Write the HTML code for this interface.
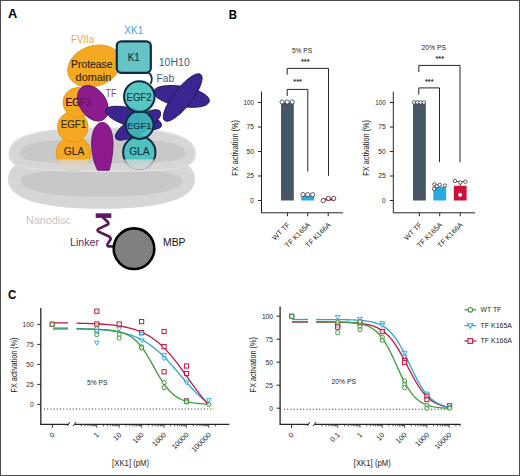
<!DOCTYPE html>
<html><head><meta charset="utf-8"><style>
html,body{margin:0;padding:0;background:#fff;}
body{width:520px;height:476px;overflow:hidden;position:relative;}
svg{position:absolute;left:0;top:0;display:block;font-family:"Liberation Sans", sans-serif;}
</style></head><body>
<svg width="520" height="476" viewBox="0 0 520 476">
<rect x="0" y="0" width="520" height="476" fill="#fff"/>
<path d="M8.00,179.20 C8.00,159.81 36.05,151.50 101.50,151.50 C166.95,151.50 195.00,159.81 195.00,179.20 C195.00,198.67 163.21,208.70 101.50,208.70 C39.79,208.70 8.00,198.67 8.00,179.20 Z" fill="#d6d6d6"/>
<path d="M20.40,180.20 C20.40,173.00 52.80,168.20 101.40,168.20 C150.00,168.20 182.40,173.00 182.40,180.20 C182.40,190.70 153.24,196.60 101.40,196.60 C49.56,196.60 20.40,190.70 20.40,180.20 Z" fill="#c8c8c8"/>
<path d="M9.30,153.40 C9.30,135.83 37.17,128.30 102.20,128.30 C167.23,128.30 195.10,135.83 195.10,153.40 C195.10,168.44 181.17,171.10 102.20,171.10 C23.23,171.10 9.30,168.44 9.30,153.40 Z" fill="#d6d6d6" stroke="#dedede" stroke-width="1.6"/>
<path d="M19.80,153.30 C19.80,142.72 41.33,139.00 102.60,139.00 C163.87,139.00 185.40,142.72 185.40,153.30 C185.40,161.30 168.84,163.30 102.60,163.30 C36.36,163.30 19.80,161.30 19.80,153.30 Z" fill="#c8c8c8"/>
<ellipse cx="94.2" cy="66" rx="27.2" ry="20.1" fill="#f5a821" stroke="#e0960f" stroke-width="0.9" transform="rotate(-20.6 94.2 66)" />
<circle cx="73.4" cy="153.3" r="17.2" fill="#f5a821" stroke="#e0960f" stroke-width="0.9"/>
<circle cx="72.8" cy="127" r="15.3" fill="#f5a821" stroke="#e0960f" stroke-width="0.9"/>
<circle cx="78" cy="102.5" r="15" fill="#f5a821" stroke="#e0960f" stroke-width="0.9"/>
<text x="91.8" y="68.1" font-size="10.6" fill="#33240c" text-anchor="middle" font-weight="normal" stroke="#33240c" stroke-width="0.12" textLength="41.5" lengthAdjust="spacingAndGlyphs">Protease</text>
<text x="93.4" y="80.6" font-size="10.6" fill="#33240c" text-anchor="middle" font-weight="normal" stroke="#33240c" stroke-width="0.12" textLength="35.6" lengthAdjust="spacingAndGlyphs">domain</text>
<text x="78.5" y="105.6" font-size="10" fill="#33240c" text-anchor="middle" font-weight="normal" stroke="#33240c" stroke-width="0.12" textLength="25.8" lengthAdjust="spacingAndGlyphs">EGF2</text>
<text x="73.5" y="127.8" font-size="10" fill="#33240c" text-anchor="middle" font-weight="normal" stroke="#33240c" stroke-width="0.12" textLength="25.5" lengthAdjust="spacingAndGlyphs">EGF1</text>
<text x="74" y="155" font-size="10.2" fill="#33240c" text-anchor="middle" font-weight="normal" stroke="#33240c" stroke-width="0.12" textLength="20.5" lengthAdjust="spacingAndGlyphs">GLA</text>
<path d="M102.3,122.4 C108,122.4 113,130 113,143 C113,155 110.8,164 109.2,170.2 L97.6,170.2 C94.5,164 91.6,155 91.6,143 C91.6,130 96.6,122.4 102.3,122.4 Z" fill="#8e1b8e" stroke="#66106a" stroke-width="0.9"/>
<ellipse cx="92.9" cy="103.3" rx="19.4" ry="13.2" fill="#8e1b8e" stroke="#66106a" stroke-width="0.9" transform="rotate(56.5 92.9 103.3)" />
<text opacity="0.6" x="78.5" y="105.6" font-size="10" fill="#3a0838" text-anchor="middle" font-weight="normal" stroke="#3a0838" stroke-width="0.12" textLength="25.8" lengthAdjust="spacingAndGlyphs">EGF2</text>
<ellipse cx="133.5" cy="118" rx="29" ry="9" fill="#3b2591" stroke="#1f1858" stroke-width="0.9" transform="rotate(15.8 133.5 118)" />
<ellipse cx="138" cy="125" rx="26" ry="8.5" fill="#3b2591" stroke="#1f1858" stroke-width="0.9" transform="rotate(-31 138 125)" />
<ellipse cx="181.5" cy="96.4" rx="28.3" ry="9.9" fill="#3b2591" stroke="#1f1858" stroke-width="0.9" transform="rotate(9.9 181.5 96.4)" />
<ellipse cx="182.7" cy="97.5" rx="29.3" ry="9.1" fill="#3b2591" stroke="#1f1858" stroke-width="0.9" transform="rotate(-52 182.7 97.5)" />
<circle cx="139.3" cy="152.5" r="16.2" fill="#40bfbb" fill-opacity="0.88" stroke="#0d2b45" stroke-width="2"/>
<circle cx="139.6" cy="125" r="13.9" fill="#40bfbb" fill-opacity="0.88" stroke="#0d2b45" stroke-width="2"/>
<circle cx="139.3" cy="96.6" r="15.3" fill="#40bfbb" fill-opacity="0.88" stroke="#0d2b45" stroke-width="2"/>
<path d="M148.5,73 C152.5,75 152.5,80 150.5,84" fill="none" stroke="#0d2b45" stroke-width="1.8"/>
<rect x="116.8" y="41.3" width="34" height="31.5" rx="4.5" fill="#66c4c6" stroke="#0d2b45" stroke-width="2.2"/>
<text x="133.7" y="60.8" font-size="10.2" fill="#0c3340" text-anchor="middle" font-weight="normal" stroke="#0c3340" stroke-width="0.12" textLength="12" lengthAdjust="spacingAndGlyphs">K1</text>
<text x="139" y="100.8" font-size="10.2" fill="#0c3340" text-anchor="middle" font-weight="normal" stroke="#0c3340" stroke-width="0.12" textLength="25" lengthAdjust="spacingAndGlyphs">EGF2</text>
<text x="139.2" y="128.6" font-size="9.8" fill="#0c3340" text-anchor="middle" font-weight="normal" stroke="#0c3340" stroke-width="0.12" textLength="24.5" lengthAdjust="spacingAndGlyphs">EGF1</text>
<clipPath id="glaclip"><circle cx="73.4" cy="153.3" r="17.7"/><circle cx="139.3" cy="152.5" r="17.2"/></clipPath>
<linearGradient id="fadeg" x1="0" y1="0" x2="0" y2="1"><stop offset="0" stop-color="#dadada" stop-opacity="0.68"/><stop offset="0.6" stop-color="#d8d8d8" stop-opacity="0.95"/><stop offset="1" stop-color="#d6d6d6" stop-opacity="1"/></linearGradient>
<rect x="50" y="159.3" width="110" height="12" fill="url(#fadeg)" clip-path="url(#glaclip)"/>
<text x="139.4" y="155.4" font-size="10" fill="#0c3340" text-anchor="middle" font-weight="normal" stroke="#0c3340" stroke-width="0.12" textLength="20.4" lengthAdjust="spacingAndGlyphs">GLA</text>
<rect x="95.7" y="213.3" width="15.6" height="4.6" fill="#5a1a5c"/>
<path d="M102.5,217 L107.6,221.8 Q109.4,223.6 107.2,224.8 L99,228.6 Q96.2,230.2 98.8,231.8 L109.2,236.6 Q111.4,238.2 110.2,240 L107.6,244 Q106.6,246.4 109.2,246.4 L113.5,246.4" fill="none" stroke="#5a1a5c" stroke-width="2.7" stroke-linejoin="round"/>
<circle cx="134" cy="248.7" r="20.3" fill="#808080" stroke="#000" stroke-width="2.6"/>
<text x="8" y="18.3" font-size="13.2" fill="#000" text-anchor="start" font-weight="bold" textLength="9.3" lengthAdjust="spacingAndGlyphs">A</text>
<text x="228.8" y="18.6" font-size="13.2" fill="#000" text-anchor="start" font-weight="bold" textLength="8.2" lengthAdjust="spacingAndGlyphs">B</text>
<text x="7.9" y="299.2" font-size="13.2" fill="#000" text-anchor="start" font-weight="bold" textLength="8.3" lengthAdjust="spacingAndGlyphs">C</text>
<text x="71" y="42.7" font-size="10.6" fill="#f0a540" text-anchor="start" font-weight="normal" textLength="23" lengthAdjust="spacingAndGlyphs">FVIIa</text>
<text x="124.3" y="34.4" font-size="10.8" fill="#46a2d0" text-anchor="start" font-weight="normal" textLength="18.9" lengthAdjust="spacingAndGlyphs">XK1</text>
<text x="158.7" y="66.2" font-size="10" fill="#3b5d87" text-anchor="start" font-weight="normal" textLength="31.1" lengthAdjust="spacingAndGlyphs">10H10</text>
<text x="156.6" y="82.4" font-size="10" fill="#3b5d87" text-anchor="start" font-weight="normal" textLength="17.4" lengthAdjust="spacingAndGlyphs">Fab</text>
<text x="105.4" y="96.5" font-size="10" fill="#7a4a8c" text-anchor="start" font-weight="normal" textLength="11.1" lengthAdjust="spacingAndGlyphs">TF</text>
<text x="26" y="224" font-size="10" fill="#c4c4c4" text-anchor="start" font-weight="normal" textLength="45" lengthAdjust="spacingAndGlyphs">Nanodisc</text>
<text x="70" y="245.7" font-size="10" fill="#5a2a6a" text-anchor="start" font-weight="normal" textLength="29" lengthAdjust="spacingAndGlyphs">Linker</text>
<text x="163" y="246" font-size="10" fill="#111" text-anchor="start" font-weight="normal" textLength="22.5" lengthAdjust="spacingAndGlyphs">MBP</text>
<path d="M261.5,91.6 V212.8 H343" fill="none" stroke="#262626" stroke-width="1"/>
<line x1="258.0" y1="200.5" x2="261.5" y2="200.5" stroke="#262626" stroke-width="1"/>
<text x="253.9" y="202.5" font-size="6.6" fill="#242424" text-anchor="end" textLength="3.6" lengthAdjust="spacingAndGlyphs">0</text>
<line x1="258.0" y1="176.0" x2="261.5" y2="176.0" stroke="#262626" stroke-width="1"/>
<text x="253.9" y="178.0" font-size="6.6" fill="#242424" text-anchor="end" textLength="7.4" lengthAdjust="spacingAndGlyphs">25</text>
<line x1="258.0" y1="151.5" x2="261.5" y2="151.5" stroke="#262626" stroke-width="1"/>
<text x="253.9" y="153.5" font-size="6.6" fill="#242424" text-anchor="end" textLength="7.4" lengthAdjust="spacingAndGlyphs">50</text>
<line x1="258.0" y1="127.0" x2="261.5" y2="127.0" stroke="#262626" stroke-width="1"/>
<text x="253.9" y="129.0" font-size="6.6" fill="#242424" text-anchor="end" textLength="7.4" lengthAdjust="spacingAndGlyphs">75</text>
<line x1="258.0" y1="102.5" x2="261.5" y2="102.5" stroke="#262626" stroke-width="1"/>
<text x="253.9" y="104.5" font-size="6.6" fill="#242424" text-anchor="end" textLength="10.4" lengthAdjust="spacingAndGlyphs">100</text>
<text transform="translate(237.5,147.9) rotate(-90)" font-size="8.4" fill="#242424" text-anchor="middle" textLength="55.5" lengthAdjust="spacingAndGlyphs">FX activation (%)</text>
<line x1="287.4" y1="212.8" x2="287.4" y2="216.2" stroke="#262626" stroke-width="1"/>
<rect x="281.0" y="102.5" width="12.8" height="98.0" fill="#465867"/>
<text transform="translate(290.4,225.3) rotate(-45)" font-size="7.2" fill="#242424" text-anchor="end">WT TF</text>
<line x1="307.7" y1="212.8" x2="307.7" y2="216.2" stroke="#262626" stroke-width="1"/>
<rect x="301.3" y="195.6" width="12.8" height="4.900000000000006" fill="#27a9e1"/>
<text transform="translate(310.7,225.3) rotate(-45)" font-size="7.2" fill="#242424" text-anchor="end">TF K165A</text>
<line x1="328.2" y1="212.8" x2="328.2" y2="216.2" stroke="#262626" stroke-width="1"/>
<rect x="321.8" y="198.54" width="12.8" height="1.960000000000008" fill="#cc0f38"/>
<text transform="translate(331.2,225.3) rotate(-45)" font-size="7.2" fill="#242424" text-anchor="end">TF K166A</text>
<circle cx="282.1" cy="102" r="2.1" fill="#fff" stroke="#333" stroke-width="0.8"/>
<circle cx="287.2" cy="102" r="2.1" fill="#fff" stroke="#333" stroke-width="0.8"/>
<circle cx="292.2" cy="102" r="2.1" fill="#fff" stroke="#333" stroke-width="0.8"/>
<circle cx="302.9" cy="194.6" r="2.1" fill="#fff" stroke="#333" stroke-width="0.8"/>
<circle cx="307.7" cy="194.6" r="2.1" fill="#fff" stroke="#333" stroke-width="0.8"/>
<circle cx="312.7" cy="194.6" r="2.1" fill="#fff" stroke="#333" stroke-width="0.8"/>
<circle cx="323.2" cy="200.6" r="2.1" fill="#fff" stroke="#333" stroke-width="0.8"/>
<circle cx="328.4" cy="198.4" r="2.1" fill="#fff" stroke="#42161f" stroke-width="0.8"/>
<circle cx="333.7" cy="198.5" r="2.1" fill="#fff" stroke="#42161f" stroke-width="0.8"/>
<text x="302" y="52.5" font-size="7.4" fill="#242424" text-anchor="middle" textLength="20.2" lengthAdjust="spacingAndGlyphs">5% PS</text>
<path d="M287.2,96 V89.4 H307.8 V171.5" fill="none" stroke="#262626" stroke-width="1"/>
<text x="297.6" y="83.5" font-size="7.4" font-weight="bold" fill="#242424" text-anchor="middle">***</text>
<path d="M287.2,74.7 V68.4 H328.5 V175.8" fill="none" stroke="#262626" stroke-width="1"/>
<text x="305.2" y="63.7" font-size="7.4" font-weight="bold" fill="#242424" text-anchor="middle">***</text>
<path d="M456,181.6 L464.6,181.6 M460.4,181.6 V187" stroke="#222" stroke-width="0.8" fill="none"/>
<path d="M393.3,91.6 V212.8 H475" fill="none" stroke="#262626" stroke-width="1"/>
<line x1="389.8" y1="200.5" x2="393.3" y2="200.5" stroke="#262626" stroke-width="1"/>
<text x="385.7" y="202.5" font-size="6.6" fill="#242424" text-anchor="end" textLength="3.6" lengthAdjust="spacingAndGlyphs">0</text>
<line x1="389.8" y1="176.0" x2="393.3" y2="176.0" stroke="#262626" stroke-width="1"/>
<text x="385.7" y="178.0" font-size="6.6" fill="#242424" text-anchor="end" textLength="7.4" lengthAdjust="spacingAndGlyphs">25</text>
<line x1="389.8" y1="151.5" x2="393.3" y2="151.5" stroke="#262626" stroke-width="1"/>
<text x="385.7" y="153.5" font-size="6.6" fill="#242424" text-anchor="end" textLength="7.4" lengthAdjust="spacingAndGlyphs">50</text>
<line x1="389.8" y1="127.0" x2="393.3" y2="127.0" stroke="#262626" stroke-width="1"/>
<text x="385.7" y="129.0" font-size="6.6" fill="#242424" text-anchor="end" textLength="7.4" lengthAdjust="spacingAndGlyphs">75</text>
<line x1="389.8" y1="102.5" x2="393.3" y2="102.5" stroke="#262626" stroke-width="1"/>
<text x="385.7" y="104.5" font-size="6.6" fill="#242424" text-anchor="end" textLength="10.4" lengthAdjust="spacingAndGlyphs">100</text>
<text transform="translate(369.3,147.9) rotate(-90)" font-size="8.4" fill="#242424" text-anchor="middle" textLength="55.5" lengthAdjust="spacingAndGlyphs">FX activation (%)</text>
<line x1="419.4" y1="212.8" x2="419.4" y2="216.2" stroke="#262626" stroke-width="1"/>
<rect x="413.0" y="102.5" width="12.8" height="98.0" fill="#465867"/>
<text transform="translate(422.4,225.3) rotate(-45)" font-size="7.2" fill="#242424" text-anchor="end">WT TF</text>
<line x1="439.7" y1="212.8" x2="439.7" y2="216.2" stroke="#262626" stroke-width="1"/>
<rect x="433.3" y="186.78" width="12.8" height="13.719999999999999" fill="#27a9e1"/>
<text transform="translate(442.7,225.3) rotate(-45)" font-size="7.2" fill="#242424" text-anchor="end">TF K165A</text>
<line x1="460.2" y1="212.8" x2="460.2" y2="216.2" stroke="#262626" stroke-width="1"/>
<rect x="453.8" y="185.8" width="12.8" height="14.699999999999989" fill="#cc0f38"/>
<text transform="translate(463.2,225.3) rotate(-45)" font-size="7.2" fill="#242424" text-anchor="end">TF K166A</text>
<circle cx="414.1" cy="102.4" r="1.75" fill="#fff" stroke="#333" stroke-width="0.8"/>
<circle cx="417.35" cy="102.4" r="1.75" fill="#fff" stroke="#333" stroke-width="0.8"/>
<circle cx="420.6" cy="102.4" r="1.75" fill="#fff" stroke="#333" stroke-width="0.8"/>
<circle cx="423.85" cy="102.4" r="1.75" fill="#fff" stroke="#333" stroke-width="0.8"/>
<circle cx="434.4" cy="184.4" r="1.7" fill="#fff" stroke="#333" stroke-width="0.8"/>
<circle cx="436.9" cy="186.2" r="1.7" fill="#fff" stroke="#333" stroke-width="0.8"/>
<circle cx="439.7" cy="184.9" r="1.7" fill="#fff" stroke="#333" stroke-width="0.8"/>
<circle cx="444.9" cy="185.6" r="1.7" fill="#fff" stroke="#333" stroke-width="0.8"/>
<circle cx="434.1" cy="188.8" r="1.7" fill="#fff" stroke="#333" stroke-width="0.8"/>
<circle cx="455" cy="180.9" r="1.7" fill="#fff" stroke="#333" stroke-width="0.8"/>
<circle cx="460.4" cy="182.5" r="1.7" fill="#fff" stroke="#333" stroke-width="0.8"/>
<circle cx="465.4" cy="181.7" r="1.7" fill="#fff" stroke="#333" stroke-width="0.8"/>
<circle cx="460.1" cy="194.8" r="1.6" fill="#fff" stroke="#fff" stroke-width="0.8"/>
<text x="433.8" y="50" font-size="7.4" fill="#242424" text-anchor="middle" textLength="24.5" lengthAdjust="spacingAndGlyphs">20% PS</text>
<path d="M418.8,94.6 V87.9 H439.5 V162.2" fill="none" stroke="#262626" stroke-width="1"/>
<text x="429.3" y="84" font-size="7.4" font-weight="bold" fill="#242424" text-anchor="middle">***</text>
<path d="M418.8,72 V65.4 H460 V162.2" fill="none" stroke="#262626" stroke-width="1"/>
<text x="439.7" y="61" font-size="7.4" font-weight="bold" fill="#242424" text-anchor="middle">***</text>
<path d="M40.8,308 V424.3 H68.5" fill="none" stroke="#262626" stroke-width="1.3"/>
<path d="M74.6,424.3 H229.4" fill="none" stroke="#262626" stroke-width="1.3"/>
<line x1="67.0" y1="426" x2="70.0" y2="422" stroke="#262626" stroke-width="1"/>
<line x1="73.1" y1="426" x2="76.1" y2="422" stroke="#262626" stroke-width="1"/>
<line x1="37.3" y1="404.4" x2="40.8" y2="404.4" stroke="#262626" stroke-width="1"/>
<text x="33.599999999999994" y="407.0" font-size="8" fill="#242424" text-anchor="end" textLength="3.7" lengthAdjust="spacingAndGlyphs">0</text>
<line x1="37.3" y1="384.4" x2="40.8" y2="384.4" stroke="#262626" stroke-width="1"/>
<text x="33.599999999999994" y="387.0" font-size="8" fill="#242424" text-anchor="end" textLength="7.3" lengthAdjust="spacingAndGlyphs">25</text>
<line x1="37.3" y1="364.4" x2="40.8" y2="364.4" stroke="#262626" stroke-width="1"/>
<text x="33.599999999999994" y="367.0" font-size="8" fill="#242424" text-anchor="end" textLength="7.3" lengthAdjust="spacingAndGlyphs">50</text>
<line x1="37.3" y1="344.4" x2="40.8" y2="344.4" stroke="#262626" stroke-width="1"/>
<text x="33.599999999999994" y="347.0" font-size="8" fill="#242424" text-anchor="end" textLength="7.3" lengthAdjust="spacingAndGlyphs">75</text>
<line x1="37.3" y1="324.4" x2="40.8" y2="324.4" stroke="#262626" stroke-width="1"/>
<text x="33.599999999999994" y="327.0" font-size="8" fill="#242424" text-anchor="end" textLength="11" lengthAdjust="spacingAndGlyphs">100</text>
<text transform="translate(17.4,365) rotate(-90)" font-size="8.4" fill="#242424" text-anchor="middle" textLength="55" lengthAdjust="spacingAndGlyphs">FX activation (%)</text>
<line x1="52.4" y1="424.3" x2="52.4" y2="427.8" stroke="#262626" stroke-width="1"/>
<line x1="81.14" y1="424.3" x2="81.14" y2="426.3" stroke="#262626" stroke-width="0.8"/>
<line x1="85.09" y1="424.3" x2="85.09" y2="426.3" stroke="#262626" stroke-width="0.8"/>
<line x1="87.89" y1="424.3" x2="87.89" y2="426.3" stroke="#262626" stroke-width="0.8"/>
<line x1="90.06" y1="424.3" x2="90.06" y2="426.3" stroke="#262626" stroke-width="0.8"/>
<line x1="91.83" y1="424.3" x2="91.83" y2="426.3" stroke="#262626" stroke-width="0.8"/>
<line x1="93.33" y1="424.3" x2="93.33" y2="426.3" stroke="#262626" stroke-width="0.8"/>
<line x1="94.63" y1="424.3" x2="94.63" y2="426.3" stroke="#262626" stroke-width="0.8"/>
<line x1="95.78" y1="424.3" x2="95.78" y2="426.3" stroke="#262626" stroke-width="0.8"/>
<line x1="96.80" y1="424.3" x2="96.80" y2="427.8" stroke="#262626" stroke-width="0.8"/>
<line x1="103.54" y1="424.3" x2="103.54" y2="426.3" stroke="#262626" stroke-width="0.8"/>
<line x1="107.49" y1="424.3" x2="107.49" y2="426.3" stroke="#262626" stroke-width="0.8"/>
<line x1="110.29" y1="424.3" x2="110.29" y2="426.3" stroke="#262626" stroke-width="0.8"/>
<line x1="112.46" y1="424.3" x2="112.46" y2="426.3" stroke="#262626" stroke-width="0.8"/>
<line x1="114.23" y1="424.3" x2="114.23" y2="426.3" stroke="#262626" stroke-width="0.8"/>
<line x1="115.73" y1="424.3" x2="115.73" y2="426.3" stroke="#262626" stroke-width="0.8"/>
<line x1="117.03" y1="424.3" x2="117.03" y2="426.3" stroke="#262626" stroke-width="0.8"/>
<line x1="118.18" y1="424.3" x2="118.18" y2="426.3" stroke="#262626" stroke-width="0.8"/>
<line x1="119.20" y1="424.3" x2="119.20" y2="427.8" stroke="#262626" stroke-width="0.8"/>
<line x1="125.94" y1="424.3" x2="125.94" y2="426.3" stroke="#262626" stroke-width="0.8"/>
<line x1="129.89" y1="424.3" x2="129.89" y2="426.3" stroke="#262626" stroke-width="0.8"/>
<line x1="132.69" y1="424.3" x2="132.69" y2="426.3" stroke="#262626" stroke-width="0.8"/>
<line x1="134.86" y1="424.3" x2="134.86" y2="426.3" stroke="#262626" stroke-width="0.8"/>
<line x1="136.63" y1="424.3" x2="136.63" y2="426.3" stroke="#262626" stroke-width="0.8"/>
<line x1="138.13" y1="424.3" x2="138.13" y2="426.3" stroke="#262626" stroke-width="0.8"/>
<line x1="139.43" y1="424.3" x2="139.43" y2="426.3" stroke="#262626" stroke-width="0.8"/>
<line x1="140.58" y1="424.3" x2="140.58" y2="426.3" stroke="#262626" stroke-width="0.8"/>
<line x1="141.60" y1="424.3" x2="141.60" y2="427.8" stroke="#262626" stroke-width="0.8"/>
<line x1="148.34" y1="424.3" x2="148.34" y2="426.3" stroke="#262626" stroke-width="0.8"/>
<line x1="152.29" y1="424.3" x2="152.29" y2="426.3" stroke="#262626" stroke-width="0.8"/>
<line x1="155.09" y1="424.3" x2="155.09" y2="426.3" stroke="#262626" stroke-width="0.8"/>
<line x1="157.26" y1="424.3" x2="157.26" y2="426.3" stroke="#262626" stroke-width="0.8"/>
<line x1="159.03" y1="424.3" x2="159.03" y2="426.3" stroke="#262626" stroke-width="0.8"/>
<line x1="160.53" y1="424.3" x2="160.53" y2="426.3" stroke="#262626" stroke-width="0.8"/>
<line x1="161.83" y1="424.3" x2="161.83" y2="426.3" stroke="#262626" stroke-width="0.8"/>
<line x1="162.98" y1="424.3" x2="162.98" y2="426.3" stroke="#262626" stroke-width="0.8"/>
<line x1="164.00" y1="424.3" x2="164.00" y2="427.8" stroke="#262626" stroke-width="0.8"/>
<line x1="170.74" y1="424.3" x2="170.74" y2="426.3" stroke="#262626" stroke-width="0.8"/>
<line x1="174.69" y1="424.3" x2="174.69" y2="426.3" stroke="#262626" stroke-width="0.8"/>
<line x1="177.49" y1="424.3" x2="177.49" y2="426.3" stroke="#262626" stroke-width="0.8"/>
<line x1="179.66" y1="424.3" x2="179.66" y2="426.3" stroke="#262626" stroke-width="0.8"/>
<line x1="181.43" y1="424.3" x2="181.43" y2="426.3" stroke="#262626" stroke-width="0.8"/>
<line x1="182.93" y1="424.3" x2="182.93" y2="426.3" stroke="#262626" stroke-width="0.8"/>
<line x1="184.23" y1="424.3" x2="184.23" y2="426.3" stroke="#262626" stroke-width="0.8"/>
<line x1="185.38" y1="424.3" x2="185.38" y2="426.3" stroke="#262626" stroke-width="0.8"/>
<line x1="186.40" y1="424.3" x2="186.40" y2="427.8" stroke="#262626" stroke-width="0.8"/>
<line x1="193.14" y1="424.3" x2="193.14" y2="426.3" stroke="#262626" stroke-width="0.8"/>
<line x1="197.09" y1="424.3" x2="197.09" y2="426.3" stroke="#262626" stroke-width="0.8"/>
<line x1="199.89" y1="424.3" x2="199.89" y2="426.3" stroke="#262626" stroke-width="0.8"/>
<line x1="202.06" y1="424.3" x2="202.06" y2="426.3" stroke="#262626" stroke-width="0.8"/>
<line x1="203.83" y1="424.3" x2="203.83" y2="426.3" stroke="#262626" stroke-width="0.8"/>
<line x1="205.33" y1="424.3" x2="205.33" y2="426.3" stroke="#262626" stroke-width="0.8"/>
<line x1="206.63" y1="424.3" x2="206.63" y2="426.3" stroke="#262626" stroke-width="0.8"/>
<line x1="207.78" y1="424.3" x2="207.78" y2="426.3" stroke="#262626" stroke-width="0.8"/>
<line x1="208.80" y1="424.3" x2="208.80" y2="427.8" stroke="#262626" stroke-width="0.8"/>
<line x1="215.54" y1="424.3" x2="215.54" y2="426.3" stroke="#262626" stroke-width="0.8"/>
<text transform="translate(55.0,435.4) rotate(-45)" font-size="7.3" fill="#242424" text-anchor="end">0</text>
<text transform="translate(99.39999999999999,435.4) rotate(-45)" font-size="7.3" fill="#242424" text-anchor="end">1</text>
<text transform="translate(121.79999999999998,435.4) rotate(-45)" font-size="7.3" fill="#242424" text-anchor="end">10</text>
<text transform="translate(144.2,435.4) rotate(-45)" font-size="7.3" fill="#242424" text-anchor="end">100</text>
<text transform="translate(166.6,435.4) rotate(-45)" font-size="7.3" fill="#242424" text-anchor="end">1000</text>
<text transform="translate(188.99999999999997,435.4) rotate(-45)" font-size="7.3" fill="#242424" text-anchor="end">10000</text>
<text transform="translate(211.4,435.4) rotate(-45)" font-size="7.3" fill="#242424" text-anchor="end">100000</text>
<line x1="44" y1="409" x2="214" y2="409" stroke="#222" stroke-width="1" stroke-dasharray="1 2.2"/>
<polyline points="76.51,328.52 78.18,328.57 79.85,328.61 81.53,328.66 83.20,328.72 84.88,328.78 86.55,328.85 88.23,328.92 89.90,328.99 91.58,329.08 93.25,329.17 94.93,329.27 96.60,329.38 98.28,329.49 99.95,329.62 101.62,329.76 103.30,329.91 104.97,330.07 106.65,330.24 108.32,330.44 110.00,330.64 111.67,330.87 113.35,331.11 115.02,331.37 116.70,331.66 118.37,331.96 120.05,332.30 121.72,332.66 123.39,333.04 125.07,333.46 126.74,333.91 128.42,334.40 130.09,334.92 131.77,335.48 133.44,336.09 135.12,336.73 136.79,337.43 138.47,338.17 140.14,338.96 141.82,339.81 143.49,340.71 145.16,341.67 146.84,342.69 148.51,343.77 150.19,344.92 151.86,346.12 153.54,347.39 155.21,348.73 156.89,350.13 158.56,351.59 160.24,353.12 161.91,354.71 163.59,356.35 165.26,358.06 166.93,359.81 168.61,361.61 170.28,363.45 171.96,365.34 173.63,367.25 175.31,369.19 176.98,371.15 178.66,373.12 180.33,375.09 182.01,377.07 183.68,379.03 185.36,380.98 187.03,382.91 188.70,384.80 190.38,386.66 192.05,388.48 193.73,390.25 195.40,391.98 197.08,393.65 198.75,395.26 200.43,396.81 202.10,398.30 203.78,399.73 205.45,401.09 207.13,402.39 208.80,403.62" fill="none" stroke="#2aa6d6" stroke-width="1.3"/>
<line x1="53" y1="328.04" x2="68" y2="328.04" stroke="#2aa6d6" stroke-width="1.3"/>
<polyline points="76.51,329.08 78.18,329.08 79.85,329.09 81.53,329.11 83.20,329.12 84.88,329.13 86.55,329.15 88.23,329.17 89.90,329.20 91.58,329.23 93.25,329.26 94.93,329.30 96.60,329.35 98.28,329.41 99.95,329.47 101.62,329.55 103.30,329.64 104.97,329.74 106.65,329.87 108.32,330.01 110.00,330.18 111.67,330.37 113.35,330.60 115.02,330.86 116.70,331.17 118.37,331.53 120.05,331.95 121.72,332.43 123.39,332.99 125.07,333.63 126.74,334.37 128.42,335.22 130.09,336.19 131.77,337.29 133.44,338.54 135.12,339.95 136.79,341.53 138.47,343.28 140.14,345.22 141.82,347.34 143.49,349.65 145.16,352.12 146.84,354.76 148.51,357.53 150.19,360.41 151.86,363.37 153.54,366.37 155.21,369.38 156.89,372.35 158.56,375.26 160.24,378.06 161.91,380.74 163.59,383.26 165.26,385.61 166.93,387.78 168.61,389.77 170.28,391.57 171.96,393.19 173.63,394.65 175.31,395.94 176.98,397.08 178.66,398.08 180.33,398.96 182.01,399.73 183.68,400.40 185.36,400.98 187.03,401.48 188.70,401.91 190.38,402.29 192.05,402.61 193.73,402.89 195.40,403.12 197.08,403.33 198.75,403.50 200.43,403.65 202.10,403.78 203.78,403.89 205.45,403.98 207.13,404.06 208.80,404.13" fill="none" stroke="#3f9b3f" stroke-width="1.3"/>
<line x1="53" y1="329.03" x2="68" y2="329.03" stroke="#3f9b3f" stroke-width="1.3"/>
<polyline points="76.51,323.19 78.18,323.22 79.85,323.25 81.53,323.29 83.20,323.33 84.88,323.38 86.55,323.43 88.23,323.48 89.90,323.54 91.58,323.60 93.25,323.67 94.93,323.74 96.60,323.82 98.28,323.91 99.95,324.01 101.62,324.11 103.30,324.23 104.97,324.35 106.65,324.48 108.32,324.63 110.00,324.79 111.67,324.96 113.35,325.15 115.02,325.35 116.70,325.58 118.37,325.82 120.05,326.08 121.72,326.36 123.39,326.67 125.07,327.00 126.74,327.37 128.42,327.76 130.09,328.18 131.77,328.64 133.44,329.13 135.12,329.66 136.79,330.24 138.47,330.86 140.14,331.53 141.82,332.25 143.49,333.02 145.16,333.85 146.84,334.73 148.51,335.68 150.19,336.70 151.86,337.78 153.54,338.93 155.21,340.16 156.89,341.46 158.56,342.83 160.24,344.29 161.91,345.82 163.59,347.43 165.26,349.12 166.93,350.89 168.61,352.73 170.28,354.64 171.96,356.63 173.63,358.69 175.31,360.80 176.98,362.97 178.66,365.20 180.33,367.46 182.01,369.77 183.68,372.10 185.36,374.45 187.03,376.81 188.70,379.17 190.38,381.53 192.05,383.88 193.73,386.20 195.40,388.48 197.08,390.73 198.75,392.93 200.43,395.08 202.10,397.17 203.78,399.19 205.45,401.15 207.13,403.04 208.80,404.84" fill="none" stroke="#c0183f" stroke-width="1.3"/>
<line x1="53" y1="322.84" x2="68" y2="322.84" stroke="#c0183f" stroke-width="1.3"/>
<rect x="50.1" y="322.09999999999997" width="4.2" height="4.2" fill="#fff" fill-opacity="0.6" stroke="#c0183f" stroke-width="1"/>
<circle cx="52.2" cy="324.4" r="2.1" fill="#fff" fill-opacity="0.6" stroke="#3f9b3f" stroke-width="1"/>
<rect x="94.7" y="309.09999999999997" width="4.2" height="4.2" fill="#fff" fill-opacity="0.6" stroke="#c0183f" stroke-width="1"/>
<rect x="94.7" y="321.9" width="4.2" height="4.2" fill="#fff" fill-opacity="0.6" stroke="#c0183f" stroke-width="1"/>
<circle cx="96.8" cy="328.8" r="2.1" fill="#fff" fill-opacity="0.6" stroke="#3f9b3f" stroke-width="1"/>
<circle cx="96.8" cy="331.7" r="2.1" fill="#fff" fill-opacity="0.6" stroke="#3f9b3f" stroke-width="1"/>
<circle cx="96.8" cy="334.6" r="2.1" fill="#fff" fill-opacity="0.6" stroke="#3f9b3f" stroke-width="1"/>
<path d="M94.39999999999999,341.09999999999997 L99.2,341.09999999999997 L96.8,345.0 Z" fill="#fff" fill-opacity="0.6" stroke="#2aa6d6" stroke-width="0.9"/>
<path d="M94.39999999999999,329.4 L99.2,329.4 L96.8,333.3 Z" fill="#fff" fill-opacity="0.6" stroke="#2aa6d6" stroke-width="0.9"/>
<rect x="117.10000000000001" y="321.9" width="4.2" height="4.2" fill="#fff" fill-opacity="0.6" stroke="#c0183f" stroke-width="1"/>
<path d="M116.8,327.2 L121.60000000000001,327.2 L119.2,331.1 Z" fill="#fff" fill-opacity="0.6" stroke="#2aa6d6" stroke-width="0.9"/>
<circle cx="119.2" cy="334.6" r="2.1" fill="#fff" fill-opacity="0.6" stroke="#3f9b3f" stroke-width="1"/>
<circle cx="119.2" cy="338" r="2.1" fill="#fff" fill-opacity="0.6" stroke="#3f9b3f" stroke-width="1"/>
<rect x="139.5" y="319.5" width="4.2" height="4.2" fill="#fff" fill-opacity="0.6" stroke="#c0183f" stroke-width="1"/>
<rect x="139.5" y="330.5" width="4.2" height="4.2" fill="#fff" fill-opacity="0.6" stroke="#c0183f" stroke-width="1"/>
<path d="M139.2,332.4 L144.0,332.4 L141.6,336.3 Z" fill="#fff" fill-opacity="0.6" stroke="#2aa6d6" stroke-width="0.9"/>
<path d="M139.2,338.9 L144.0,338.9 L141.6,342.8 Z" fill="#fff" fill-opacity="0.6" stroke="#2aa6d6" stroke-width="0.9"/>
<circle cx="141.6" cy="346.8" r="2.1" fill="#fff" fill-opacity="0.6" stroke="#3f9b3f" stroke-width="1"/>
<circle cx="141.6" cy="347.9" r="2.1" fill="#fff" fill-opacity="0.6" stroke="#3f9b3f" stroke-width="1"/>
<rect x="162.0" y="329.4" width="4.2" height="4.2" fill="#fff" fill-opacity="0.6" stroke="#c0183f" stroke-width="1"/>
<rect x="162.0" y="344.5" width="4.2" height="4.2" fill="#fff" fill-opacity="0.6" stroke="#c0183f" stroke-width="1"/>
<rect x="162.0" y="369.7" width="4.2" height="4.2" fill="#fff" fill-opacity="0.6" stroke="#c0183f" stroke-width="1"/>
<path d="M161.7,353.29999999999995 L166.5,353.29999999999995 L164.1,357.2 Z" fill="#fff" fill-opacity="0.6" stroke="#2aa6d6" stroke-width="0.9"/>
<path d="M161.7,356.79999999999995 L166.5,356.79999999999995 L164.1,360.7 Z" fill="#fff" fill-opacity="0.6" stroke="#2aa6d6" stroke-width="0.9"/>
<circle cx="164.1" cy="382.6" r="2.1" fill="#fff" fill-opacity="0.6" stroke="#3f9b3f" stroke-width="1"/>
<circle cx="164.1" cy="387.7" r="2.1" fill="#fff" fill-opacity="0.6" stroke="#3f9b3f" stroke-width="1"/>
<rect x="184.4" y="363.9" width="4.2" height="4.2" fill="#fff" fill-opacity="0.6" stroke="#c0183f" stroke-width="1"/>
<rect x="184.4" y="371.4" width="4.2" height="4.2" fill="#fff" fill-opacity="0.6" stroke="#c0183f" stroke-width="1"/>
<path d="M184.1,381.0 L188.9,381.0 L186.5,384.90000000000003 Z" fill="#fff" fill-opacity="0.6" stroke="#2aa6d6" stroke-width="0.9"/>
<rect x="184.4" y="398.9" width="4.2" height="4.2" fill="#fff" fill-opacity="0.6" stroke="#c0183f" stroke-width="1"/>
<circle cx="186.5" cy="400.8" r="2.1" fill="#fff" fill-opacity="0.6" stroke="#3f9b3f" stroke-width="1"/>
<circle cx="186.5" cy="402" r="2.1" fill="#fff" fill-opacity="0.6" stroke="#3f9b3f" stroke-width="1"/>
<path d="M206.4,398.7 L211.20000000000002,398.7 L208.8,402.6 Z" fill="#fff" fill-opacity="0.6" stroke="#2aa6d6" stroke-width="0.9"/>
<circle cx="208.8" cy="404.5" r="2.1" fill="#fff" fill-opacity="0.6" stroke="#3f9b3f" stroke-width="1"/>
<text x="97.3" y="385" font-size="7.6" fill="#242424" text-anchor="middle" textLength="20.4" lengthAdjust="spacingAndGlyphs">5% PS</text>
<text x="130.6" y="466" font-size="8.4" fill="#242424" text-anchor="middle" textLength="37" lengthAdjust="spacingAndGlyphs">[XK1] (pM)</text>
<path d="M280.1,306.4 V424.3 H308.5" fill="none" stroke="#262626" stroke-width="1.3"/>
<path d="M314.6,424.3 H460.6" fill="none" stroke="#262626" stroke-width="1.3"/>
<line x1="307.0" y1="426" x2="310.0" y2="422" stroke="#262626" stroke-width="1"/>
<line x1="313.1" y1="426" x2="316.1" y2="422" stroke="#262626" stroke-width="1"/>
<line x1="276.6" y1="408.2" x2="280.1" y2="408.2" stroke="#262626" stroke-width="1"/>
<text x="272.90000000000003" y="410.8" font-size="8" fill="#242424" text-anchor="end" textLength="3.7" lengthAdjust="spacingAndGlyphs">0</text>
<line x1="276.6" y1="385.2" x2="280.1" y2="385.2" stroke="#262626" stroke-width="1"/>
<text x="272.90000000000003" y="387.8" font-size="8" fill="#242424" text-anchor="end" textLength="7.3" lengthAdjust="spacingAndGlyphs">25</text>
<line x1="276.6" y1="362.2" x2="280.1" y2="362.2" stroke="#262626" stroke-width="1"/>
<text x="272.90000000000003" y="364.8" font-size="8" fill="#242424" text-anchor="end" textLength="7.3" lengthAdjust="spacingAndGlyphs">50</text>
<line x1="276.6" y1="339.2" x2="280.1" y2="339.2" stroke="#262626" stroke-width="1"/>
<text x="272.90000000000003" y="341.8" font-size="8" fill="#242424" text-anchor="end" textLength="7.3" lengthAdjust="spacingAndGlyphs">75</text>
<line x1="276.6" y1="316.2" x2="280.1" y2="316.2" stroke="#262626" stroke-width="1"/>
<text x="272.90000000000003" y="318.8" font-size="8" fill="#242424" text-anchor="end" textLength="11" lengthAdjust="spacingAndGlyphs">100</text>
<text transform="translate(256.1,364.7) rotate(-90)" font-size="8.4" fill="#242424" text-anchor="middle" textLength="55" lengthAdjust="spacingAndGlyphs">FX activation (%)</text>
<line x1="291.5" y1="424.3" x2="291.5" y2="427.8" stroke="#262626" stroke-width="1"/>
<line x1="322.11" y1="424.3" x2="322.11" y2="426.3" stroke="#262626" stroke-width="0.8"/>
<line x1="326.04" y1="424.3" x2="326.04" y2="426.3" stroke="#262626" stroke-width="0.8"/>
<line x1="328.83" y1="424.3" x2="328.83" y2="426.3" stroke="#262626" stroke-width="0.8"/>
<line x1="330.99" y1="424.3" x2="330.99" y2="426.3" stroke="#262626" stroke-width="0.8"/>
<line x1="332.75" y1="424.3" x2="332.75" y2="426.3" stroke="#262626" stroke-width="0.8"/>
<line x1="334.25" y1="424.3" x2="334.25" y2="426.3" stroke="#262626" stroke-width="0.8"/>
<line x1="335.54" y1="424.3" x2="335.54" y2="426.3" stroke="#262626" stroke-width="0.8"/>
<line x1="336.68" y1="424.3" x2="336.68" y2="426.3" stroke="#262626" stroke-width="0.8"/>
<line x1="337.70" y1="424.3" x2="337.70" y2="427.8" stroke="#262626" stroke-width="0.8"/>
<line x1="344.41" y1="424.3" x2="344.41" y2="426.3" stroke="#262626" stroke-width="0.8"/>
<line x1="348.34" y1="424.3" x2="348.34" y2="426.3" stroke="#262626" stroke-width="0.8"/>
<line x1="351.13" y1="424.3" x2="351.13" y2="426.3" stroke="#262626" stroke-width="0.8"/>
<line x1="353.29" y1="424.3" x2="353.29" y2="426.3" stroke="#262626" stroke-width="0.8"/>
<line x1="355.05" y1="424.3" x2="355.05" y2="426.3" stroke="#262626" stroke-width="0.8"/>
<line x1="356.55" y1="424.3" x2="356.55" y2="426.3" stroke="#262626" stroke-width="0.8"/>
<line x1="357.84" y1="424.3" x2="357.84" y2="426.3" stroke="#262626" stroke-width="0.8"/>
<line x1="358.98" y1="424.3" x2="358.98" y2="426.3" stroke="#262626" stroke-width="0.8"/>
<line x1="360.00" y1="424.3" x2="360.00" y2="427.8" stroke="#262626" stroke-width="0.8"/>
<line x1="366.71" y1="424.3" x2="366.71" y2="426.3" stroke="#262626" stroke-width="0.8"/>
<line x1="370.64" y1="424.3" x2="370.64" y2="426.3" stroke="#262626" stroke-width="0.8"/>
<line x1="373.43" y1="424.3" x2="373.43" y2="426.3" stroke="#262626" stroke-width="0.8"/>
<line x1="375.59" y1="424.3" x2="375.59" y2="426.3" stroke="#262626" stroke-width="0.8"/>
<line x1="377.35" y1="424.3" x2="377.35" y2="426.3" stroke="#262626" stroke-width="0.8"/>
<line x1="378.85" y1="424.3" x2="378.85" y2="426.3" stroke="#262626" stroke-width="0.8"/>
<line x1="380.14" y1="424.3" x2="380.14" y2="426.3" stroke="#262626" stroke-width="0.8"/>
<line x1="381.28" y1="424.3" x2="381.28" y2="426.3" stroke="#262626" stroke-width="0.8"/>
<line x1="382.30" y1="424.3" x2="382.30" y2="427.8" stroke="#262626" stroke-width="0.8"/>
<line x1="389.01" y1="424.3" x2="389.01" y2="426.3" stroke="#262626" stroke-width="0.8"/>
<line x1="392.94" y1="424.3" x2="392.94" y2="426.3" stroke="#262626" stroke-width="0.8"/>
<line x1="395.73" y1="424.3" x2="395.73" y2="426.3" stroke="#262626" stroke-width="0.8"/>
<line x1="397.89" y1="424.3" x2="397.89" y2="426.3" stroke="#262626" stroke-width="0.8"/>
<line x1="399.65" y1="424.3" x2="399.65" y2="426.3" stroke="#262626" stroke-width="0.8"/>
<line x1="401.15" y1="424.3" x2="401.15" y2="426.3" stroke="#262626" stroke-width="0.8"/>
<line x1="402.44" y1="424.3" x2="402.44" y2="426.3" stroke="#262626" stroke-width="0.8"/>
<line x1="403.58" y1="424.3" x2="403.58" y2="426.3" stroke="#262626" stroke-width="0.8"/>
<line x1="404.60" y1="424.3" x2="404.60" y2="427.8" stroke="#262626" stroke-width="0.8"/>
<line x1="411.31" y1="424.3" x2="411.31" y2="426.3" stroke="#262626" stroke-width="0.8"/>
<line x1="415.24" y1="424.3" x2="415.24" y2="426.3" stroke="#262626" stroke-width="0.8"/>
<line x1="418.03" y1="424.3" x2="418.03" y2="426.3" stroke="#262626" stroke-width="0.8"/>
<line x1="420.19" y1="424.3" x2="420.19" y2="426.3" stroke="#262626" stroke-width="0.8"/>
<line x1="421.95" y1="424.3" x2="421.95" y2="426.3" stroke="#262626" stroke-width="0.8"/>
<line x1="423.45" y1="424.3" x2="423.45" y2="426.3" stroke="#262626" stroke-width="0.8"/>
<line x1="424.74" y1="424.3" x2="424.74" y2="426.3" stroke="#262626" stroke-width="0.8"/>
<line x1="425.88" y1="424.3" x2="425.88" y2="426.3" stroke="#262626" stroke-width="0.8"/>
<line x1="426.90" y1="424.3" x2="426.90" y2="427.8" stroke="#262626" stroke-width="0.8"/>
<line x1="433.61" y1="424.3" x2="433.61" y2="426.3" stroke="#262626" stroke-width="0.8"/>
<line x1="437.54" y1="424.3" x2="437.54" y2="426.3" stroke="#262626" stroke-width="0.8"/>
<line x1="440.33" y1="424.3" x2="440.33" y2="426.3" stroke="#262626" stroke-width="0.8"/>
<line x1="442.49" y1="424.3" x2="442.49" y2="426.3" stroke="#262626" stroke-width="0.8"/>
<line x1="444.25" y1="424.3" x2="444.25" y2="426.3" stroke="#262626" stroke-width="0.8"/>
<line x1="445.75" y1="424.3" x2="445.75" y2="426.3" stroke="#262626" stroke-width="0.8"/>
<line x1="447.04" y1="424.3" x2="447.04" y2="426.3" stroke="#262626" stroke-width="0.8"/>
<line x1="448.18" y1="424.3" x2="448.18" y2="426.3" stroke="#262626" stroke-width="0.8"/>
<line x1="449.20" y1="424.3" x2="449.20" y2="427.8" stroke="#262626" stroke-width="0.8"/>
<line x1="455.91" y1="424.3" x2="455.91" y2="426.3" stroke="#262626" stroke-width="0.8"/>
<line x1="459.84" y1="424.3" x2="459.84" y2="426.3" stroke="#262626" stroke-width="0.8"/>
<text transform="translate(294.1,435.4) rotate(-45)" font-size="7.3" fill="#242424" text-anchor="end">0</text>
<text transform="translate(340.3,435.4) rotate(-45)" font-size="7.3" fill="#242424" text-anchor="end">0.1</text>
<text transform="translate(362.6,435.4) rotate(-45)" font-size="7.3" fill="#242424" text-anchor="end">1</text>
<text transform="translate(384.90000000000003,435.4) rotate(-45)" font-size="7.3" fill="#242424" text-anchor="end">10</text>
<text transform="translate(407.20000000000005,435.4) rotate(-45)" font-size="7.3" fill="#242424" text-anchor="end">100</text>
<text transform="translate(429.5,435.4) rotate(-45)" font-size="7.3" fill="#242424" text-anchor="end">1000</text>
<text transform="translate(451.8,435.4) rotate(-45)" font-size="7.3" fill="#242424" text-anchor="end">10000</text>
<line x1="284" y1="409.2" x2="451" y2="409.2" stroke="#222" stroke-width="1" stroke-dasharray="1 2.2"/>
<polyline points="316.29,322.08 317.97,322.08 319.66,322.08 321.34,322.09 323.02,322.10 324.70,322.10 326.39,322.11 328.07,322.12 329.75,322.14 331.43,322.15 333.12,322.17 334.80,322.19 336.48,322.21 338.16,322.23 339.85,322.26 341.53,322.30 343.21,322.34 344.89,322.39 346.57,322.44 348.26,322.50 349.94,322.58 351.62,322.66 353.30,322.76 354.99,322.87 356.67,323.00 358.35,323.16 360.03,323.33 361.72,323.54 363.40,323.77 365.08,324.05 366.76,324.36 368.45,324.72 370.13,325.14 371.81,325.62 373.49,326.17 375.18,326.80 376.86,327.52 378.54,328.34 380.22,329.27 381.90,330.32 383.59,331.52 385.27,332.86 386.95,334.36 388.63,336.03 390.32,337.88 392.00,339.91 393.68,342.14 395.36,344.55 397.05,347.14 398.73,349.91 400.41,352.83 402.09,355.88 403.78,359.04 405.46,362.27 407.14,365.54 408.82,368.81 410.51,372.06 412.19,375.23 413.87,378.30 415.55,381.25 417.23,384.04 418.92,386.67 420.60,389.12 422.28,391.38 423.96,393.45 425.65,395.33 427.33,397.03 429.01,398.57 430.69,399.94 432.38,401.16 434.06,402.24 435.74,403.19 437.42,404.03 439.11,404.77 440.79,405.41 442.47,405.98 444.15,406.47 445.84,406.90 447.52,407.27 449.20,407.59" fill="none" stroke="#c0183f" stroke-width="1.3"/>
<line x1="292" y1="322.05" x2="308" y2="322.05" stroke="#c0183f" stroke-width="1.3"/>
<polyline points="316.29,321.74 317.97,321.74 319.66,321.75 321.34,321.75 323.02,321.76 324.70,321.77 326.39,321.78 328.07,321.79 329.75,321.81 331.43,321.83 333.12,321.85 334.80,321.87 336.48,321.90 338.16,321.94 339.85,321.98 341.53,322.03 343.21,322.09 344.89,322.16 346.57,322.24 348.26,322.34 349.94,322.46 351.62,322.60 353.30,322.76 354.99,322.95 356.67,323.18 358.35,323.45 360.03,323.77 361.72,324.14 363.40,324.59 365.08,325.10 366.76,325.71 368.45,326.42 370.13,327.24 371.81,328.20 373.49,329.31 375.18,330.58 376.86,332.05 378.54,333.71 380.22,335.60 381.90,337.73 383.59,340.09 385.27,342.70 386.95,345.55 388.63,348.64 390.32,351.93 392.00,355.40 393.68,359.00 395.36,362.69 397.05,366.42 398.73,370.14 400.41,373.78 402.09,377.30 403.78,380.66 405.46,383.82 407.14,386.76 408.82,389.45 410.51,391.91 412.19,394.12 413.87,396.09 415.55,397.83 417.23,399.37 418.92,400.71 420.60,401.87 422.28,402.88 423.96,403.75 425.65,404.50 427.33,405.14 429.01,405.69 430.69,406.15 432.38,406.55 434.06,406.89 435.74,407.17 437.42,407.42 439.11,407.62 440.79,407.80 442.47,407.94 444.15,408.07 445.84,408.17 447.52,408.26 449.20,408.33" fill="none" stroke="#3f9b3f" stroke-width="1.3"/>
<line x1="292" y1="321.71" x2="308" y2="321.71" stroke="#3f9b3f" stroke-width="1.3"/>
<polyline points="316.29,319.52 317.97,319.52 319.66,319.53 321.34,319.53 323.02,319.53 324.70,319.54 326.39,319.54 328.07,319.55 329.75,319.55 331.43,319.56 333.12,319.57 334.80,319.58 336.48,319.59 338.16,319.61 339.85,319.63 341.53,319.65 343.21,319.67 344.89,319.70 346.57,319.73 348.26,319.77 349.94,319.82 351.62,319.87 353.30,319.93 354.99,320.01 356.67,320.09 358.35,320.20 360.03,320.31 361.72,320.45 363.40,320.61 365.08,320.80 366.76,321.02 368.45,321.28 370.13,321.58 371.81,321.93 373.49,322.33 375.18,322.80 376.86,323.35 378.54,323.98 380.22,324.71 381.90,325.55 383.59,326.52 385.27,327.62 386.95,328.88 388.63,330.30 390.32,331.91 392.00,333.72 393.68,335.73 395.36,337.96 397.05,340.41 398.73,343.08 400.41,345.95 402.09,349.02 403.78,352.26 405.46,355.64 407.14,359.13 408.82,362.68 410.51,366.25 412.19,369.80 413.87,373.27 415.55,376.64 417.23,379.86 418.92,382.91 420.60,385.76 422.28,388.41 423.96,390.83 425.65,393.04 427.33,395.03 429.01,396.81 430.69,398.40 432.38,399.81 434.06,401.05 435.74,402.14 437.42,403.09 439.11,403.91 440.79,404.63 442.47,405.25 444.15,405.79 445.84,406.26 447.52,406.65 449.20,407.00" fill="none" stroke="#2aa6d6" stroke-width="1.3"/>
<line x1="292" y1="319.51" x2="308" y2="319.51" stroke="#2aa6d6" stroke-width="1.3"/>
<rect x="289.7" y="314.09999999999997" width="4.2" height="4.2" fill="#fff" fill-opacity="0.6" stroke="#3a6a3a" stroke-width="1"/>
<circle cx="291.8" cy="316.4" r="2.1" fill="#fff" fill-opacity="0.6" stroke="#3f9b3f" stroke-width="1"/>
<path d="M335.3,315.4 L340.09999999999997,315.4 L337.7,319.3 Z" fill="#fff" fill-opacity="0.6" stroke="#2aa6d6" stroke-width="0.9"/>
<rect x="335.59999999999997" y="323.09999999999997" width="4.2" height="4.2" fill="#fff" fill-opacity="0.6" stroke="#c0183f" stroke-width="1"/>
<rect x="335.59999999999997" y="325.09999999999997" width="4.2" height="4.2" fill="#fff" fill-opacity="0.6" stroke="#c0183f" stroke-width="1"/>
<circle cx="337.7" cy="322.2" r="2.1" fill="#fff" fill-opacity="0.6" stroke="#3f9b3f" stroke-width="1"/>
<circle cx="337.7" cy="332.7" r="2.1" fill="#fff" fill-opacity="0.6" stroke="#3f9b3f" stroke-width="1"/>
<path d="M357.6,317.4 L362.4,317.4 L360,321.3 Z" fill="#fff" fill-opacity="0.6" stroke="#2aa6d6" stroke-width="0.9"/>
<rect x="357.9" y="320.9" width="4.2" height="4.2" fill="#fff" fill-opacity="0.6" stroke="#c0183f" stroke-width="1"/>
<circle cx="360" cy="321.4" r="2.1" fill="#fff" fill-opacity="0.6" stroke="#3f9b3f" stroke-width="1"/>
<circle cx="360" cy="326.4" r="2.1" fill="#fff" fill-opacity="0.6" stroke="#3f9b3f" stroke-width="1"/>
<circle cx="360" cy="329.7" r="2.1" fill="#fff" fill-opacity="0.6" stroke="#3f9b3f" stroke-width="1"/>
<path d="M379.90000000000003,321.59999999999997 L384.7,321.59999999999997 L382.3,325.5 Z" fill="#fff" fill-opacity="0.6" stroke="#2aa6d6" stroke-width="0.9"/>
<path d="M379.90000000000003,323.59999999999997 L384.7,323.59999999999997 L382.3,327.5 Z" fill="#fff" fill-opacity="0.6" stroke="#2aa6d6" stroke-width="0.9"/>
<rect x="380.2" y="329.4" width="4.2" height="4.2" fill="#fff" fill-opacity="0.6" stroke="#c0183f" stroke-width="1"/>
<circle cx="382.3" cy="337.3" r="2.1" fill="#fff" fill-opacity="0.6" stroke="#3f9b3f" stroke-width="1"/>
<circle cx="382.3" cy="340.3" r="2.1" fill="#fff" fill-opacity="0.6" stroke="#3f9b3f" stroke-width="1"/>
<path d="M402.20000000000005,351.29999999999995 L407.0,351.29999999999995 L404.6,355.2 Z" fill="#fff" fill-opacity="0.6" stroke="#2aa6d6" stroke-width="0.9"/>
<path d="M402.20000000000005,355.09999999999997 L407.0,355.09999999999997 L404.6,359.0 Z" fill="#fff" fill-opacity="0.6" stroke="#2aa6d6" stroke-width="0.9"/>
<rect x="402.5" y="358.4" width="4.2" height="4.2" fill="#fff" fill-opacity="0.6" stroke="#c0183f" stroke-width="1"/>
<rect x="402.5" y="360.4" width="4.2" height="4.2" fill="#fff" fill-opacity="0.6" stroke="#c0183f" stroke-width="1"/>
<circle cx="404.6" cy="381" r="2.1" fill="#fff" fill-opacity="0.6" stroke="#3f9b3f" stroke-width="1"/>
<circle cx="404.6" cy="384.4" r="2.1" fill="#fff" fill-opacity="0.6" stroke="#3f9b3f" stroke-width="1"/>
<circle cx="404.6" cy="387.7" r="2.1" fill="#fff" fill-opacity="0.6" stroke="#3f9b3f" stroke-width="1"/>
<path d="M424.5,392.09999999999997 L429.29999999999995,392.09999999999997 L426.9,396.0 Z" fill="#fff" fill-opacity="0.6" stroke="#2aa6d6" stroke-width="0.9"/>
<rect x="424.79999999999995" y="394.09999999999997" width="4.2" height="4.2" fill="#fff" fill-opacity="0.6" stroke="#c0183f" stroke-width="1"/>
<rect x="424.79999999999995" y="397.4" width="4.2" height="4.2" fill="#fff" fill-opacity="0.6" stroke="#c0183f" stroke-width="1"/>
<circle cx="426.9" cy="405.3" r="2.1" fill="#fff" fill-opacity="0.6" stroke="#3f9b3f" stroke-width="1"/>
<circle cx="426.9" cy="408.3" r="2.1" fill="#fff" fill-opacity="0.6" stroke="#3f9b3f" stroke-width="1"/>
<rect x="447.5" y="403.7" width="4.2" height="4.2" fill="#fff" fill-opacity="0.6" stroke="#c0183f" stroke-width="1"/>
<path d="M447.20000000000005,405.4 L452.0,405.4 L449.6,409.3 Z" fill="#fff" fill-opacity="0.6" stroke="#2aa6d6" stroke-width="0.9"/>
<circle cx="449.6" cy="408.3" r="2.1" fill="#fff" fill-opacity="0.6" stroke="#3f9b3f" stroke-width="1"/>
<text x="343.7" y="383.5" font-size="7.6" fill="#242424" text-anchor="middle" textLength="24.5" lengthAdjust="spacingAndGlyphs">20% PS</text>
<text x="372.3" y="466" font-size="8.4" fill="#242424" text-anchor="middle" textLength="37" lengthAdjust="spacingAndGlyphs">[XK1] (pM)</text>
<line x1="464.4" y1="309.8" x2="476.3" y2="309.8" stroke="#3f9b3f" stroke-width="1.2"/>
<g transform="translate(470.3 309.8) scale(1.12) translate(-470.3 -309.8)"><circle cx="470.3" cy="309.8" r="2.1" fill="#fff" fill-opacity="1" stroke="#3f9b3f" stroke-width="1"/></g>
<text x="480.6" y="312.1" font-size="7.4" fill="#242424" textLength="20.7" lengthAdjust="spacingAndGlyphs">WT TF</text>
<line x1="464.4" y1="325.6" x2="476.3" y2="325.6" stroke="#2aa6d6" stroke-width="1.2"/>
<g transform="translate(470.3 325.6) scale(1.12) translate(-470.3 -325.6)"><path d="M467.90000000000003,324.0 L472.7,324.0 L470.3,327.90000000000003 Z" fill="#fff" fill-opacity="1" stroke="#2aa6d6" stroke-width="0.9"/></g>
<text x="480.6" y="327.90000000000003" font-size="7.4" fill="#242424" textLength="31.3" lengthAdjust="spacingAndGlyphs">TF K165A</text>
<line x1="464.4" y1="341" x2="476.3" y2="341" stroke="#c0183f" stroke-width="1.2"/>
<g transform="translate(470.3 341) scale(1.12) translate(-470.3 -341)"><rect x="468.2" y="338.9" width="4.2" height="4.2" fill="#fff" fill-opacity="1" stroke="#c0183f" stroke-width="1"/></g>
<text x="480.6" y="343.3" font-size="7.4" fill="#242424" textLength="31.3" lengthAdjust="spacingAndGlyphs">TF K166A</text>
<rect x="0.5" y="0.5" width="519" height="475" fill="none" stroke="#4d4d4d" stroke-width="1"/>
</svg>
</body></html>
